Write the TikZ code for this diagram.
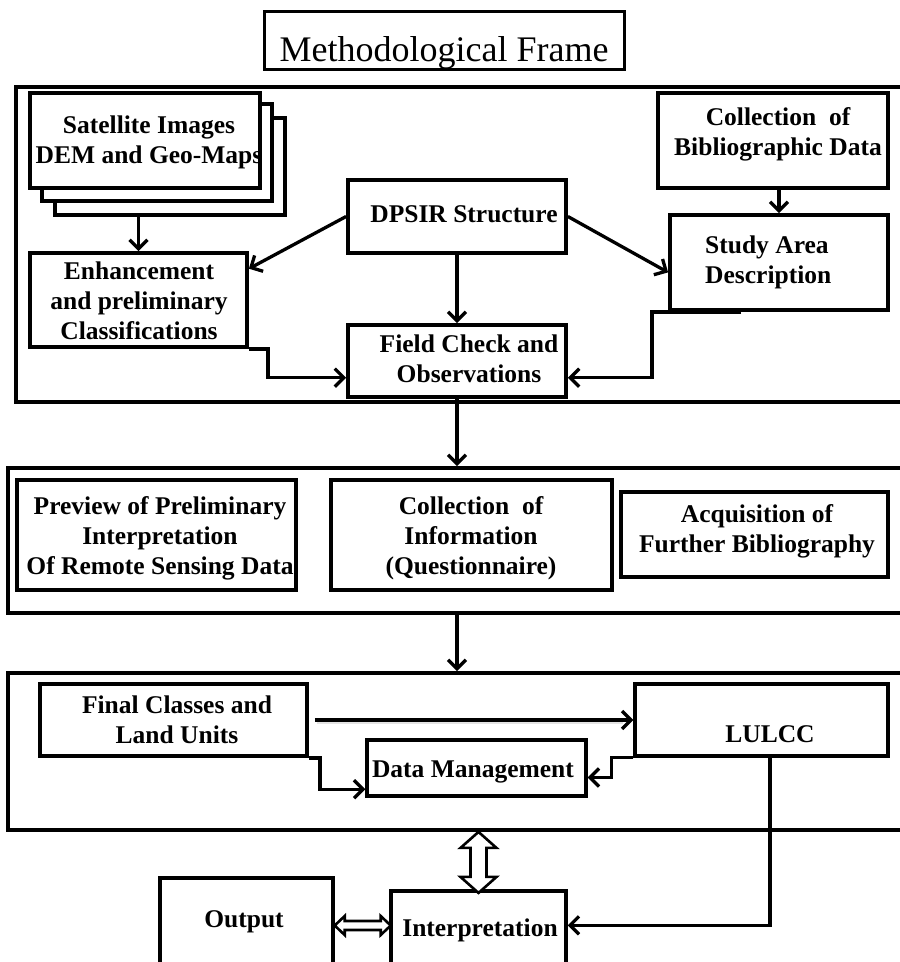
\documentclass[tikz,border=0pt]{standalone}
\usepackage{fontspec}
\setmainfont{Liberation Serif}
\usetikzlibrary{arrows.meta,fit,calc}

\begin{document}
\begin{tikzpicture}[x=1pt,y=-1pt,
  panel/.style={draw, line width=3.8pt, inner sep=0pt},
  box/.style={draw, fill=white, line width=3.8pt, inner sep=0pt},
  txt/.style={font=\bfseries\fontsize{25.5}{30}\selectfont, align=center, inner sep=0pt},
  arr/.style={line width=3.3pt, -{Straight Barb[length=9pt,width=18pt]}},
  shadowline/.style={draw=gray!22, line width=1.6pt},
  dblarrow/.style={draw, fill=white, line width=2.6pt, line join=miter}]
\useasboundingbox (0,0) rectangle (900,962);

% title
\node[box, line width=3pt, fit={(264,11) (624,69)}] (titlebox) {};
\node[font=\fontsize{36}{43}\selectfont, inner sep=0pt] (title) at (444,52.4) {\strut Methodological Frame};

% three stages
\node[panel, fit={(16,87) (915,402)}] (p1) {};
\node[panel, fit={(8,468) (915,613)}] (p2) {};
\node[panel, fit={(8,673) (915,830)}] (p3) {};

% stage 1
\node[box, fit={(55,118) (285,215)}] (sat3) {};
\node[box, fit={(42,104) (272,201)}] (sat2) {};
\node[box, fit={(30,93) (260,188)}] (sat1) {};
\node[txt] (tsat) at (149,142.5) {\strut Satellite Images\\\strut DEM and Geo-Maps};

\node[box, fit={(30,253) (247,347)}] (enh) {};
\node[txt] (tenh) at (139,303) {\strut Enhancement\\\strut and preliminary\\\strut Classifications};

\node[box, fit={(348,180) (566,253)}] (dpsir) {};
\node[txt] (tdpsir) at (464,216) {\strut DPSIR Structure};

\node[box, fit={(348,325) (566,397)}] (field) {};
\node[txt] (tfield) at (469,361) {\strut Field Check and\\\strut Observations};

\node[box, fit={(658,93) (888,188)}] (bib) {};
\node[txt] (tbib) at (778,134) {\strut Collection\ \ of\\\strut Bibliographic Data};

\node[box, fit={(670,215) (888,310)}] (study) {};
\node[txt, anchor=west, align=left] (tstudy) at (705,262) {\strut Study Area\\\strut Description};

% stage 2
\node[box, fit={(17,480) (296,590)}] (prev) {};
\node[txt] (tprev) at (160,538) {\strut Preview of Preliminary\\\strut Interpretation\\\strut Of Remote Sensing Data};

\node[box, fit={(331,480) (612,590)}] (info) {};
\node[txt] (tinfo) at (471,538) {\strut Collection\ \ of\\\strut Information\\\strut (Questionnaire)};

\node[box, fit={(621,492) (888,577)}] (acq) {};
\node[txt] (tacq) at (757,531.5) {\strut Acquisition of\\\strut Further Bibliography};

% stage 3
\node[box, fit={(40,684) (307,756)}] (final) {};
\node[txt] (tfinal) at (177,722) {\strut Final Classes and\\\strut Land Units};

\node[box, line width=3.3pt, fit={(635,684) (888,756)}] (lulcc) {};
\node[txt] (tlulcc) at (770,736) {\strut LULCC};

\node[box, line width=3.4pt, fit={(367,740) (586,796)}] (dm) {};
\node[txt] (tdm) at (473,771) {\strut Data Management};

% results
\node[box, line width=3.4pt, fit={(160,878) (333,980)}] (output) {};
\node[txt] (toutput) at (244,921) {\strut Output};

\node[box, line width=3.4pt, fit={(391,891) (566,980)}] (interp) {};
\node[txt] (tinterp) at (480,930) {\strut Interpretation};

% connectors, stage 1
\draw[arr] (sat3.south -| enh.north) -- (enh.north);
\draw[arr] (dpsir.west) -- ($(enh.north east)!0.18!(enh.south east)$);
\draw[arr] (dpsir.east) -- ($(study.north west)!0.6!(study.south west)$);
\draw[arr] (dpsir.south) -- (field.north);
\draw[arr] (bib.south -| study.north) -- (study.north);
\draw[arr] (enh.south east) -- ++(19,0) |- ($(field.north west)!0.72!(field.south west)$);
\coordinate (sa) at ($(study.south west)+(73,0)$);
\draw[arr] (sa) -- ++(-89,0) |- ($(field.north east)!0.72!(field.south east)$);

% between stages
\draw[arr] (field.south) -- (field.south |- p2.north);
\draw[arr] (p2.south -| field.south) -- (p3.north -| field.south);

% connectors, stage 3
\draw[shadowline] ($(final.east)+(8,3.2)$) -- ($(final.east -| lulcc.west)+(-10,3.2)$);
\draw[arr] ($(final.east)+(6,0)$) -- (final.east -| lulcc.west);
\draw[arr] (final.south east) -- ++(11,0) |- ($(dm.north west)!0.857!(dm.south west)$);
\draw[arr] (lulcc.south west) -- ++(-22,0) |- ($(dm.north east)!0.66!(dm.south east)$);
\draw[arr] ([xshift=8.5pt]lulcc.south) |- ($(interp.north east)+(0,36)$);

% hollow double arrows
\coordinate (va) at (interp.north |- p3.south);
\path[dblarrow, shift={(va)}] (0,0) -- (18,16) -- (8,16) -- (8,45) -- (18,45) -- (0,61)
  -- (-18,45) -- (-8,45) -- (-8,16) -- (-18,16) -- cycle;
\coordinate (ha) at ($(output.east)+(0,-3.5)$);
\path[dblarrow, shift={(ha)}] (0,0) -- (10,-9.5) -- (10,-4.5) -- (46,-4.5) -- (46,-9.5) -- (56,0)
  -- (46,9.5) -- (46,4.5) -- (10,4.5) -- (10,9.5) -- cycle;
\end{tikzpicture}
\end{document}
